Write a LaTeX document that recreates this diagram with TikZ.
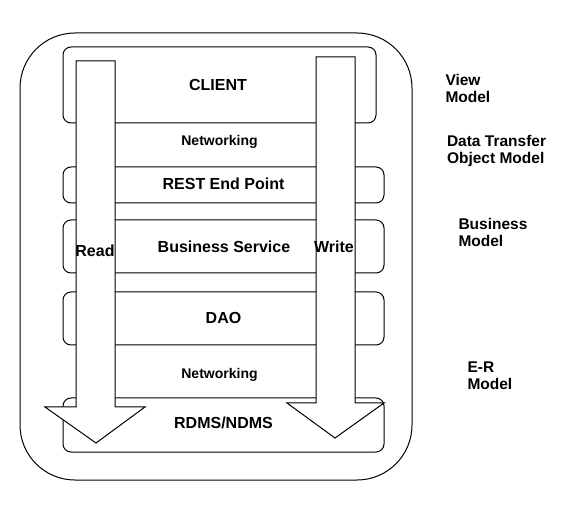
\documentclass[tikz,border=0pt]{standalone}
\usepackage{fontspec}
\setmainfont{Liberation Sans}
\begin{document}
\begin{tikzpicture}[x=1pt, y=-1pt,
    line width=1pt,
    layer/.style={draw, rounded corners=8pt},
    flow/.style={draw, fill=white, line join=miter},
    lbl/.style={font=\fontsize{16}{17}\selectfont\bfseries, inner sep=0pt},
    small/.style={font=\fontsize{14}{16}\selectfont\bfseries, inner sep=0pt},
    side/.style={font=\fontsize{15.5}{17}\selectfont\bfseries, inner sep=0pt,
      anchor=west, align=left}]
      \useasboundingbox (0, 0) rectangle (566, 508);

      % Draw the outer box
      \draw[rounded corners=55pt] (20, 33) rectangle (412, 480);

      % Draw the layers inside
      \draw[layer] (63, 47) rectangle (376, 123);
      \draw[layer] (63, 167) rectangle (384, 203);
      \draw[layer] (63, 220) rectangle (384, 273);
      \draw[layer] (63, 292) rectangle (384, 345);
      \draw[layer] (63, 398) rectangle (384, 452);

      % Draw the read arrow
      \draw[flow] (76, 61) -- (115, 61) -- (115, 407) -- (145, 407)
        -- (96, 443) -- (45, 407) -- (76, 407) -- cycle;

      % Draw the write arrow
      \draw[flow] (316, 57) -- (355, 57) -- (355, 403) -- (384, 403)
        -- (335, 438) -- (287, 403) -- (316, 403) -- cycle;

      % Labels of the layers
      \node[lbl] (client) at (218, 85) {CLIENT};
      \node[small] (net1) at (219.5, 142) {Networking};
      \node[lbl] (rest) at (223.5, 184) {REST End Point};
      \node[lbl] (bus) at (224, 247) {Business Service};
      \node[lbl] (dao) at (223.5, 318) {DAO};
      \node[small] (net2) at (219.5, 375) {Networking};
      \node[lbl] (db) at (223.5, 423) {RDMS/NDMS};

      \node[lbl] (read) at (95, 251) {Read};
      \node[lbl] (write) at (334, 247) {Write};

      % Labels of the models
      \node[side] (view) at (445, 88.5) {View\\Model};
      \node[side] (dto) at (446.5, 151) {Data Transfer\\Object Model};
      \node[side] (bm) at (458, 232) {Business\\Model};
      \node[side] (er) at (467, 376) {E-R\\Model};
    \end{tikzpicture}
\end{document}
